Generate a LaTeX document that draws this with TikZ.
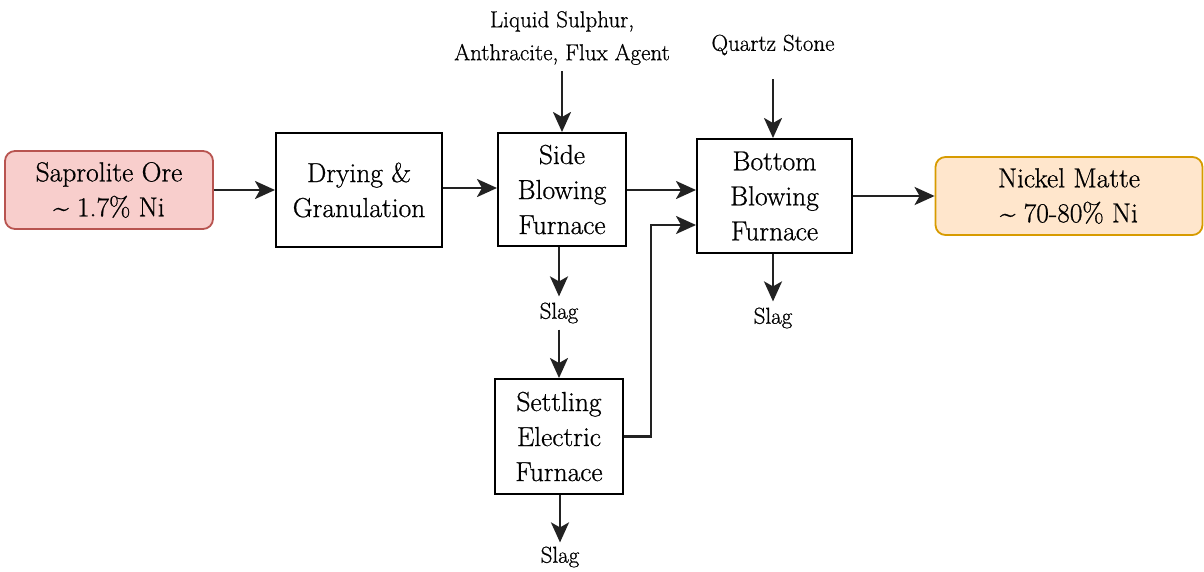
\documentclass[tikz,border=0pt]{standalone}
\usepackage{fontspec}
\setmainfont{Latin Modern Roman}[FakeBold=0.7]
\usetikzlibrary{arrows.meta,calc}
\definecolor{orefill}{HTML}{F8CECC}
\definecolor{oreline}{HTML}{B85450}
\definecolor{matfill}{HTML}{FFE6CC}
\definecolor{matline}{HTML}{D79B00}
\definecolor{flowcol}{HTML}{222222}
\begin{document}
\begin{tikzpicture}[x=1pt,y=-1pt,
  box/.style={draw=black, line width=2pt, fill=white, inner sep=0pt, align=center,
    font=\fontsize{27.5}{35}\selectfont},
  term/.style={box, rounded corners=10pt, line width=1.8pt},
  lbl/.style={inner sep=0pt, align=center, font=\fontsize{23}{33}\selectfont},
  flow/.style={draw=flowcol, line width=2.6pt, -{Stealth[length=20pt,width=18pt,inset=5pt]}}]
\useasboundingbox (0,0) rectangle (1204,571);
\node[term, fill=orefill, draw=oreline, minimum width=208pt, minimum height=78pt] (ore) at (109,190) {Saprolite Ore\\\textasciitilde{} 1.7\% Ni};
\node[box, minimum width=166pt, minimum height=114pt] (dry) at (359,190) {Drying \&\\Granulation};
\node[box, minimum width=128pt, minimum height=113pt] (side) at (562,189.5) {Side\\Blowing\\Furnace};
\node[box, minimum width=155pt, minimum height=114pt] (bot) at (774.5,196) {Bottom\\Blowing\\Furnace};
\node[term, fill=matfill, draw=matline, minimum width=267pt, minimum height=78pt] (mat) at (1069,196) {Nickel Matte\\\textasciitilde{} 70-80\% Ni};
\node[box, minimum width=128pt, minimum height=115pt] (set) at (559,436.5) {Settling\\Electric\\Furnace};
\node[lbl] (in1) at (562,38) {Liquid Sulphur,\\Anthracite, Flux Agent};
\node[lbl] (qz) at (773,45) {Quartz Stone};
\node[lbl] (s1) at (559,313) {Slag};
\node[lbl] (s2) at (773,318) {Slag};
\node[lbl] (s3) at (560,557) {Slag};
\draw[flow] (ore) -- (dry);
\draw[flow] (dry.east |- 0,188) -- (side.west |- 0,188);
\draw[flow] (side.east |- 0,190) -- (bot.west |- 0,190);
\draw[flow] (bot) -- (mat);
\draw[flow, shorten <=6pt] (in1.south) -- (side.north);
\draw[flow, shorten <=24pt] (qz) -- (qz |- bot.north);
\draw[flow, shorten >=6pt] (side.south -| s1) -- (s1);
\draw[flow, shorten >=6pt] (bot.south -| s2) -- (s2);
\draw[flow, shorten <=6pt] (s1) -- (set.north -| s1);
\draw[flow, shorten >=4pt] (set.south -| s3) -- (s3);
\draw[flow, line width=2.2pt] (set.east) -- ++(27,0) |- ($(bot.west)+(0,29)$);
\end{tikzpicture}
\end{document}
